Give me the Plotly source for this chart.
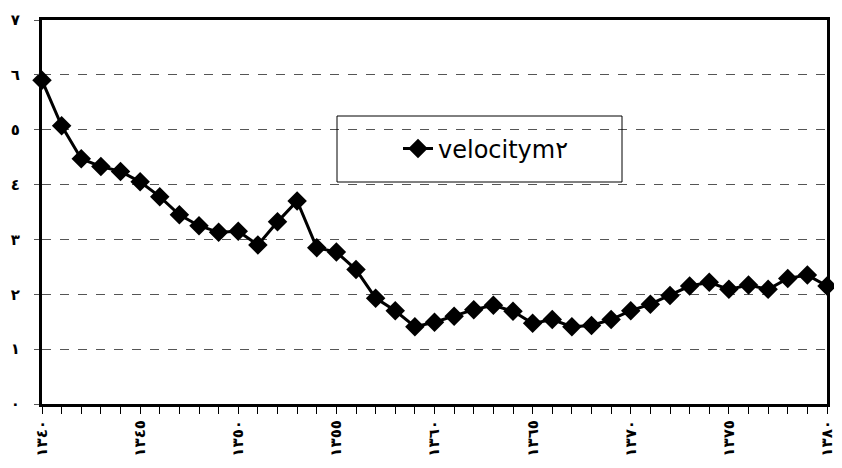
import plotly.graph_objects as go

years = list(range(1340, 1381))
velocity = [5.9, 5.07, 4.47, 4.33, 4.24, 4.05, 3.78, 3.45, 3.25, 3.13,
            3.15, 2.9, 3.32, 3.7, 2.85, 2.77, 2.45, 1.93, 1.7, 1.41,
            1.49, 1.6, 1.72, 1.8, 1.69, 1.47, 1.54, 1.41, 1.43, 1.54,
            1.7, 1.82, 1.98, 2.15, 2.22, 2.09, 2.17, 2.09, 2.29, 2.35,
            2.15]
series_name = "velocitym٢"

x_tickvals = [1340, 1345, 1350, 1355, 1360, 1365, 1370, 1375, 1380]
x_ticktext = ["١٣٤٠", "١٣٤٥", "١٣٥٠", "١٣٥٥", "١٣٦٠", "١٣٦٥", "١٣٧٠", "١٣٧٥", "١٣٨٠"]
y_tickvals = [0, 1, 2, 3, 4, 5, 6, 7]
y_ticktext = ["٠", "١", "٢", "٣", "٤", "٥", "٦", "٧"]

# page body has an 8px margin; figure sized to fill the 842x468 window
OX, OY = 8, 8
W, H = 834, 460
# desired plot area in window pixels
PL, PR, PT, PB = 42, 827, 20, 404
L, R, T, B = PL - OX, W - (PR - OX), PT - OY, H - (PB - OY)
pw, ph = W - L - R, H - T - B

def px_x(p):
    return (p - OX - L) / pw

def px_y(p):
    return (H - B - (p - OY)) / ph

fig = go.Figure()
fig.add_trace(go.Scatter(
    x=years, y=velocity, name=series_name, mode="lines+markers",
    line=dict(color="black", width=3),
    marker=dict(symbol="diamond", size=15, color="black"),
    cliponaxis=False,
))

fig.add_shape(type="rect", xref="paper", yref="paper",
              x0=px_x(337), x1=px_x(622), y0=px_y(182), y1=px_y(116),
              line=dict(color="black", width=1), fillcolor="rgba(0,0,0,0)")

fig.update_layout(
    width=W, height=H,
    margin=dict(l=L, r=R, t=T, b=B, autoexpand=False),
    paper_bgcolor="white", plot_bgcolor="white",
    font=dict(family="DejaVu Sans", color="black"),
    showlegend=True,
    legend=dict(x=px_x(398), y=px_y(149), xanchor="left", yanchor="middle",
                font=dict(size=24, family="DejaVu Sans"),
                bgcolor="rgba(0,0,0,0)", borderwidth=0),
    xaxis=dict(range=[1340, 1380], tickvals=x_tickvals, ticktext=x_ticktext,
               tickangle=-90, tickfont=dict(size=15, weight="bold"),
               automargin=False, ticklabeloverflow="allow",
               showgrid=False, zeroline=False,
               showline=True, linecolor="black", linewidth=3, mirror=True,
               ticks="outside", ticklen=7, tickwidth=1, tickcolor="black",
               minor=dict(dtick=1, ticks="outside", ticklen=7, tickwidth=1, tickcolor="black")),
    yaxis=dict(range=[0, 7], tickvals=y_tickvals, ticktext=y_ticktext,
               tickfont=dict(size=15, weight="bold"),
               automargin=False, ticklabelstandoff=11,
               showgrid=True, gridcolor="#555", gridwidth=1, griddash="dash",
               zeroline=False,
               showline=True, linecolor="black", linewidth=3, mirror=True,
               ticks="outside", ticklen=5, tickcolor="#555", tickwidth=1),
)

fig.write_html("out.html")
